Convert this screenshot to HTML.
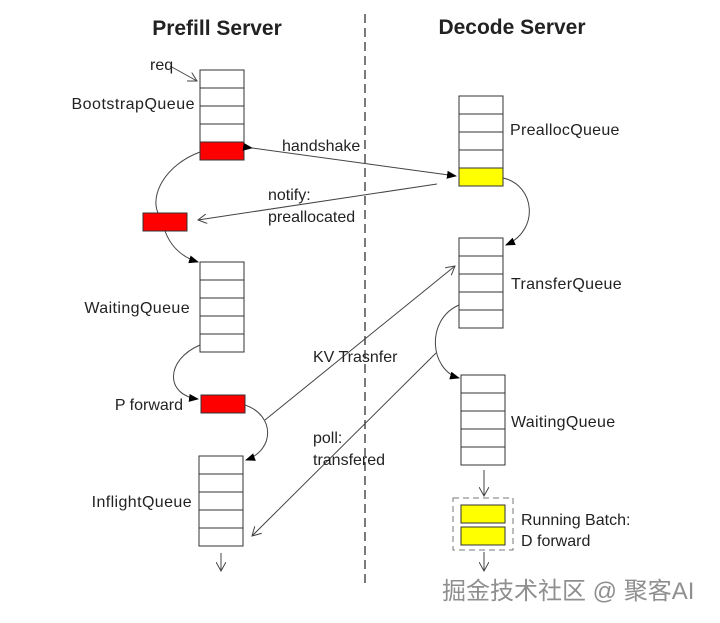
<!DOCTYPE html>
<html><head><style>
html,body{margin:0;padding:0;background:#fff;}
svg{display:block;}
text{font-family:"Liberation Sans","Noto Sans CJK SC",sans-serif;fill:#222;}
</style></head><body>
<svg width="720" height="623" viewBox="0 0 720 623" xmlns="http://www.w3.org/2000/svg">
<defs>
<marker id="a" markerWidth="10" markerHeight="8" refX="9" refY="4" orient="auto" markerUnits="userSpaceOnUse"><path d="M0,0 L10,4 L0,8 z" fill="#000"/></marker>
<marker id="o" markerWidth="10" markerHeight="10" refX="9" refY="5" orient="auto" markerUnits="userSpaceOnUse"><path d="M0,0 L9,5 L0,10" fill="none" stroke="#444"/></marker>
</defs>
<rect width="720" height="623" fill="#fff"/>
<line x1="365" y1="14" x2="365" y2="585" stroke="#222" stroke-width="1.2" stroke-dasharray="9,5"/>
<text x="217" y="35" font-size="21" font-weight="bold" text-anchor="middle" fill="#111">Prefill Server</text>
<text x="512" y="34" font-size="21" font-weight="bold" text-anchor="middle" fill="#111">Decode Server</text>
<g stroke="#333" stroke-width="1" fill="#fff">
<rect x="200" y="70" width="44" height="18"/><rect x="200" y="88" width="44" height="18"/><rect x="200" y="106" width="44" height="18"/><rect x="200" y="124" width="44" height="18"/><rect x="200" y="142" width="44" height="18" fill="#f00"/>
<rect x="143" y="213" width="44" height="18" fill="#f00"/>
<rect x="200" y="262" width="44" height="18"/><rect x="200" y="280" width="44" height="18"/><rect x="200" y="298" width="44" height="18"/><rect x="200" y="316" width="44" height="18"/><rect x="200" y="334" width="44" height="18"/>
<rect x="201" y="395" width="44" height="18" fill="#f00"/>
<rect x="199" y="456" width="44" height="18"/><rect x="199" y="474" width="44" height="18"/><rect x="199" y="492" width="44" height="18"/><rect x="199" y="510" width="44" height="18"/><rect x="199" y="528" width="44" height="18"/>
<rect x="459" y="96" width="44" height="18"/><rect x="459" y="114" width="44" height="18"/><rect x="459" y="132" width="44" height="18"/><rect x="459" y="150" width="44" height="18"/><rect x="459" y="168" width="44" height="18" fill="#ff0"/>
<rect x="459" y="238" width="44" height="18"/><rect x="459" y="256" width="44" height="18"/><rect x="459" y="274" width="44" height="18"/><rect x="459" y="292" width="44" height="18"/><rect x="459" y="310" width="44" height="18"/>
<rect x="461" y="375" width="44" height="18"/><rect x="461" y="393" width="44" height="18"/><rect x="461" y="411" width="44" height="18"/><rect x="461" y="429" width="44" height="18"/><rect x="461" y="447" width="44" height="18"/>
<rect x="453" y="498" width="60" height="52" fill="none" stroke="#777" stroke-dasharray="6,4"/>
<rect x="461" y="505" width="44" height="18" fill="#ff0"/><rect x="461" y="527" width="44" height="18" fill="#ff0"/>
</g>
<g stroke="#444" stroke-width="1" fill="none">
<line x1="170" y1="66" x2="197" y2="81" marker-end="url(#o)"/>
<line x1="437" y1="184" x2="198" y2="220" marker-end="url(#o)"/>
<line x1="252" y1="148" x2="456" y2="176" marker-start="url(#a)" marker-end="url(#a)"/>
<path d="M200,152 C165,165 150,195 158,213"/>
<path d="M165,231 C172,250 185,258 198,262" marker-end="url(#a)"/>
<path d="M200,345 C165,360 165,395 198,399" marker-end="url(#a)"/>
<path d="M245,405 C275,415 275,450 246,460" marker-end="url(#a)"/>
<line x1="265" y1="420" x2="455" y2="266" marker-end="url(#o)"/>
<line x1="436" y1="353" x2="252" y2="536" marker-end="url(#o)"/>
<path d="M503,178 C535,185 540,230 506,245" marker-end="url(#a)"/>
<path d="M459,305 C425,320 430,370 459,378" marker-end="url(#a)"/>
<line x1="221" y1="553" x2="221" y2="571" marker-end="url(#o)"/>
<line x1="484" y1="470" x2="484" y2="496" marker-end="url(#o)"/>
<line x1="484" y1="552" x2="484" y2="571" marker-end="url(#o)"/>
</g>
<g font-size="16">
<text x="150" y="70">req</text>
<text x="195" y="109" text-anchor="end" letter-spacing="0.5">BootstrapQueue</text>
<text x="190" y="313" text-anchor="end" letter-spacing="0.4">WaitingQueue</text>
<text x="183" y="410" text-anchor="end">P forward</text>
<text x="192" y="507" text-anchor="end" letter-spacing="0.4">InflightQueue</text>
<text x="282" y="151">handshake</text>
<text x="268" y="200">notify:</text>
<text x="268" y="222">preallocated</text>
<text x="313" y="362">KV Trasnfer</text>
<text x="313" y="443">poll:</text>
<text x="313" y="465">transfered</text>
<text x="510" y="135" letter-spacing="0.3">PreallocQueue</text>
<text x="511" y="289" letter-spacing="0.3">TransferQueue</text>
<text x="511" y="427" letter-spacing="0.3">WaitingQueue</text>
<text x="521" y="525">Running Batch:</text>
<text x="521" y="546">D forward</text>
</g>
<text x="442" y="599" font-size="24" style="fill:#8f8f8f">掘金技术社区 @ 聚客AI</text>
</svg>
</body></html>
